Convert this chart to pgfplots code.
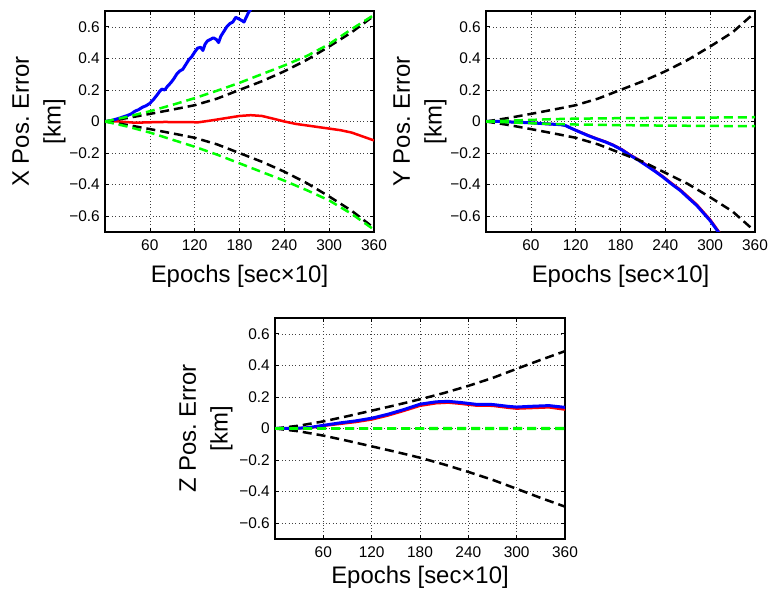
\documentclass[border=0pt]{standalone}
\usepackage{fontspec}
\setmainfont{Liberation Sans}
\usepackage{pgfplots}
\pgfplotsset{compat=1.18}
\definecolor{mblue}{RGB}{0,0,255}
\definecolor{mred}{RGB}{255,0,0}
\definecolor{mgreen}{RGB}{0,255,0}
\frenchspacing

\pgfplotsset{
  errax/.style={
    scale only axis, height=221bp,
    xmin=0, xmax=360, ymin=-0.7, ymax=0.7,
    xtick={60,120,180,240,300,360},
    xticklabels={60,120,180,240,300,360},
    ytick={-0.6,-0.4,-0.2,0,0.2,0.4,0.6},
    yticklabels={−0.6,−0.4,−0.2,0,0.2,0.4,0.6},
    grid=major,
    grid style={black!75, line width=0.5bp, dash pattern=on 0.8bp off 2.6bp},
    tick align=inside, major tick length=4bp,
    axis line style={line width=1.1bp},
    tick style={black, line width=0.6bp},
    xticklabel style={font=\fontsize{15.5}{17}\selectfont, yshift=-4bp},
    yticklabel style={font=\fontsize{15.5}{17}\selectfont, anchor=east, inner sep=0pt, xshift=-5bp},
    label style={font=\fontsize{24}{32}\selectfont},
    xlabel={Epochs [sec×10]},
    ylabel style={align=center, at={(axis description cs:0,0.5)}, anchor=center, yshift=66bp},
    no markers,
  },
  blueln/.style={mblue, line width=3bp, line join=round},
  redln/.style={mred, line width=2.5bp, line join=round},
  blkdash/.style={black, line width=2.5bp, dash pattern=on 9bp off 5bp},
  grndash/.style={mgreen, line width=2.5bp, dash pattern=on 9bp off 5bp},
}

\begin{document}
\begin{tikzpicture}
\path[use as bounding box] (0,0) rectangle (769bp,590bp);

% X position error
\begin{axis}[errax, width=269bp, at={(105bp,358bp)}, anchor=south west,
  ylabel={X Pos. Error\\{[km]}},
  xlabel style={at={(axis description cs:0.5,0)}, anchor=base, yshift=-51bp}]
\addplot[redln] coordinates {(0,0) (20,0) (40,-0.008) (60,-0.005) (80,-0.003) (100,-0.004)
  (125,-0.005) (140,0.005) (160,0.02) (180,0.035) (195,0.04) (210,0.035) (225,0.018)
  (240,0.0) (255,-0.015) (270,-0.025) (285,-0.035) (300,-0.045) (315,-0.055)
  (330,-0.07) (345,-0.095) (360,-0.12)};
\addplot[blueln] coordinates {(0,0) (5,0.003) (10,0.008) (15,0.015) (20,0.022) (25,0.03)
  (30,0.038) (35,0.048) (40,0.065) (45,0.075) (50,0.09) (55,0.1) (60,0.115) (65,0.14)
  (70,0.17) (73,0.19) (76,0.205) (80,0.2) (84,0.225) (88,0.245) (92,0.27) (96,0.3)
  (100,0.32) (104,0.33) (108,0.36) (112,0.39) (116,0.41) (120,0.44) (124,0.465)
  (128,0.47) (131,0.45) (134,0.49) (137,0.51) (141,0.52) (145,0.53) (149,0.52)
  (152,0.5) (155,0.54) (159,0.57) (163,0.6) (167,0.62) (171,0.63) (175,0.66)
  (179,0.65) (183,0.64) (186,0.63) (189,0.66) (192,0.69) (195,0.71) (198,0.74)};
\addplot[blkdash] coordinates {(0,0) (30,0.022) (60,0.048) (90,0.075) (120,0.103) (150,0.145)
  (180,0.2) (210,0.255) (240,0.318) (270,0.39) (300,0.475) (330,0.565) (360,0.67)};
\addplot[blkdash] coordinates {(0,0) (30,-0.022) (60,-0.048) (90,-0.075) (120,-0.103) (150,-0.145)
  (180,-0.2) (210,-0.255) (240,-0.318) (270,-0.39) (300,-0.475) (330,-0.565) (360,-0.675)};
\addplot[grndash] coordinates {(0,0) (30,0.03) (60,0.065) (90,0.105) (120,0.148) (150,0.195)
  (180,0.245) (210,0.3) (240,0.355) (270,0.415) (300,0.49) (330,0.585) (360,0.675)};
\addplot[grndash] coordinates {(0,0) (30,-0.032) (60,-0.07) (90,-0.115) (120,-0.16) (150,-0.21)
  (180,-0.265) (210,-0.32) (240,-0.375) (270,-0.435) (300,-0.5) (330,-0.585) (360,-0.685)};
\end{axis}

% Y position error
\begin{axis}[errax, width=269bp, at={(486bp,358bp)}, anchor=south west,
  ylabel={Y Pos. Error\\{[km]}},
  xlabel style={at={(axis description cs:0.5,0)}, anchor=base, yshift=-51bp}]
\addplot[redln] coordinates {(0,0) (20,0) (37,-0.004) (60,-0.008) (81,-0.015) (100,-0.02)
  (106,-0.025) (115,-0.045) (126,-0.066) (137,-0.088) (148,-0.108) (160,-0.128)
  (170,-0.148) (182,-0.177) (193,-0.211) (204,-0.241) (215,-0.276) (226,-0.311)
  (237,-0.349) (248,-0.39) (260,-0.432) (271,-0.479) (282,-0.526) (291,-0.574)
  (300,-0.622) (311,-0.694) (316,-0.73)};
\addplot[blueln] coordinates {(0,0) (20,0) (37,-0.004) (60,-0.008) (81,-0.015) (100,-0.02)
  (106,-0.025) (115,-0.045) (126,-0.068) (137,-0.09) (148,-0.11) (160,-0.13)
  (170,-0.15) (182,-0.18) (193,-0.215) (204,-0.245) (215,-0.28) (226,-0.315)
  (237,-0.353) (248,-0.395) (260,-0.437) (271,-0.485) (282,-0.532) (291,-0.58)
  (300,-0.628) (311,-0.70) (315,-0.73)};
\addplot[blkdash] coordinates {(0,0) (30,0.022) (60,0.048) (90,0.075) (120,0.103) (150,0.145)
  (180,0.2) (210,0.255) (240,0.318) (270,0.39) (300,0.475) (330,0.565) (355,0.67)};
\addplot[blkdash] coordinates {(0,0) (30,-0.022) (60,-0.048) (90,-0.075) (120,-0.103) (150,-0.145)
  (180,-0.2) (210,-0.255) (240,-0.325) (270,-0.395) (300,-0.48) (330,-0.57) (355,-0.675)};
\addplot[grndash] coordinates {(0,0) (30,0.005) (60,0.01) (90,0.015) (120,0.018) (180,0.021)
  (240,0.023) (300,0.025) (360,0.027)};
\addplot[grndash] coordinates {(0,0) (30,-0.005) (60,-0.011) (90,-0.016) (120,-0.019) (180,-0.023)
  (240,-0.026) (300,-0.028) (360,-0.03)};
\end{axis}

% Z position error
\begin{axis}[errax, width=290bp, at={(275bp,51bp)}, anchor=south west,
  ylabel={Z Pos. Error\\{[km]}},
  ylabel style={yshift=3bp},
  xlabel style={at={(axis description cs:0.5,0)}, anchor=base, yshift=-44bp}]
\addplot[redln] coordinates {(0,0) (20,0) (40,0.003) (50,0.009) (60,0.017) (80,0.029)
  (100,0.041) (120,0.057) (140,0.082) (160,0.112) (180,0.144) (200,0.16) (215,0.164)
  (230,0.157) (250,0.145) (270,0.144) (290,0.131) (300,0.126) (320,0.13) (340,0.134)
  (360,0.12)};
\addplot[blueln] coordinates {(0,0) (20,0) (40,0.005) (50,0.012) (60,0.02) (80,0.035)
  (100,0.048) (120,0.065) (140,0.09) (160,0.12) (180,0.154) (200,0.169) (215,0.172)
  (230,0.165) (250,0.153) (270,0.152) (290,0.14) (300,0.136) (320,0.141) (340,0.145)
  (360,0.134)};
\addplot[blkdash] coordinates {(0,0) (30,0.018) (60,0.045) (90,0.078) (120,0.113) (150,0.148)
  (180,0.185) (210,0.225) (240,0.27) (270,0.32) (300,0.378) (330,0.435) (360,0.49)};
\addplot[blkdash] coordinates {(0,0) (30,-0.018) (60,-0.045) (90,-0.078) (120,-0.113) (150,-0.148)
  (180,-0.185) (210,-0.228) (240,-0.275) (270,-0.325) (300,-0.382) (330,-0.44) (360,-0.495)};
\addplot[grndash] coordinates {(0,0) (120,0.001) (240,0.002) (360,0.002)};
\addplot[grndash] coordinates {(0,0) (120,-0.001) (240,-0.002) (360,-0.002)};
\end{axis}
\end{tikzpicture}
\end{document}
